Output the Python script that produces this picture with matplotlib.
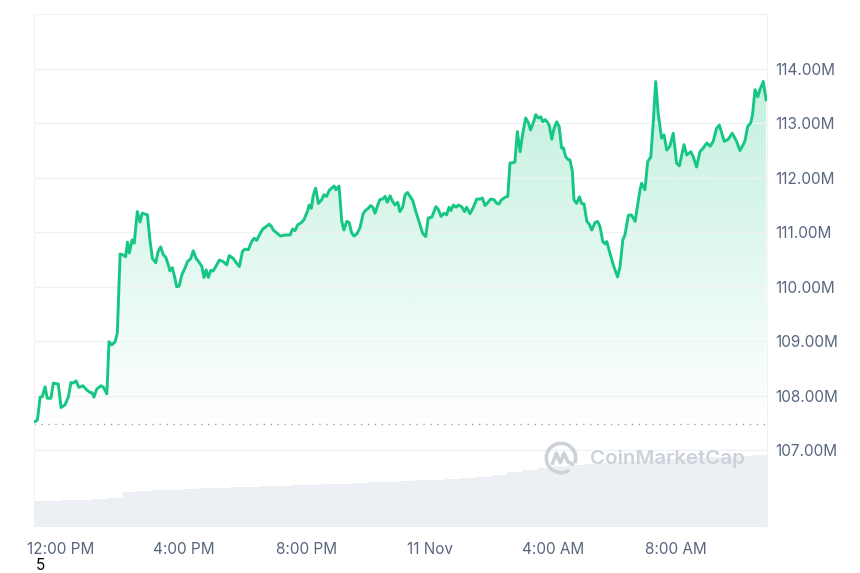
import numpy as np
import matplotlib
matplotlib.use('Agg')
import matplotlib.pyplot as plt
from matplotlib.patches import Polygon, Arc
from matplotlib.colors import to_rgb

# market cap over the last 24h, hours counted from 00:00 on 10 Nov
hours = [11.15, 11.23, 11.32, 11.39, 11.48, 11.55, 11.67, 11.75, 11.91, 12.00,
         12.13, 12.24, 12.32, 12.40, 12.49, 12.58, 12.71, 12.84, 12.94, 13.01,
         13.07, 13.16, 13.30, 13.38, 13.49, 13.56, 13.65, 13.76, 13.83, 13.92,
         14.03, 14.10, 14.16, 14.22, 14.31, 14.38, 14.48, 14.57, 14.64, 14.81,
         14.89, 14.97, 15.08, 15.16, 15.24, 15.33, 15.40, 15.49, 15.54, 15.62,
         15.71, 15.76, 15.84, 15.93, 16.03, 16.11, 16.22, 16.30, 16.39, 16.49,
         16.58, 16.65, 16.72, 16.79, 16.87, 16.95, 17.04, 17.15, 17.28, 17.39,
         17.47, 17.60, 17.71, 17.80, 17.90, 17.98, 18.09, 18.20, 18.28, 18.36,
         18.45, 18.56, 18.66, 18.77, 18.85, 18.90, 19.01, 19.14, 19.28, 19.45,
         19.53, 19.61, 19.70, 19.80, 19.90, 20.01, 20.07, 20.14, 20.20, 20.28,
         20.37, 20.48, 20.55, 20.64, 20.72, 20.80, 20.88, 20.94, 21.04, 21.13,
         21.20, 21.29, 21.37, 21.45, 21.53, 21.62, 21.72, 21.83, 21.92, 21.99,
         22.07, 22.14, 22.21, 22.30, 22.37, 22.46, 22.54, 22.61, 22.70, 22.77,
         22.86, 22.95, 23.02, 23.11, 23.19, 23.27, 23.35, 23.44, 23.54, 23.65,
         23.76, 23.86, 23.94, 24.06, 24.19, 24.27, 24.36, 24.46, 24.54, 24.62,
         24.68, 24.76, 24.85, 24.92, 25.03, 25.12, 25.19, 25.30, 25.41, 25.52,
         25.63, 25.70, 25.79, 25.90, 25.97, 26.08, 26.17, 26.24, 26.33, 26.44,
         26.53, 26.60, 26.71, 26.76, 26.84, 26.93, 27.01, 27.11, 27.20, 27.27,
         27.36, 27.44, 27.52, 27.60, 27.67, 27.74, 27.81, 27.88, 27.96, 28.03,
         28.12, 28.20, 28.28, 28.34, 28.41, 28.48, 28.55, 28.63, 28.68, 28.77,
         28.86, 28.93, 29.01, 29.10, 29.18, 29.26, 29.37, 29.45, 29.53, 29.62,
         29.69, 29.75, 29.85, 29.96, 30.10, 30.18, 30.27, 30.34, 30.45, 30.55,
         30.67, 30.83, 30.88, 30.99, 31.08, 31.18, 31.26, 31.34, 31.42, 31.53,
         31.61, 31.70, 31.80, 31.91, 32.02, 32.11, 32.26, 32.35, 32.48, 32.56,
         32.67, 32.78, 32.89, 33.00, 33.11, 33.21, 33.32, 33.41, 33.49, 33.57,
         33.70, 33.83, 33.97, 34.08, 34.24, 34.33, 34.43, 34.49, 34.57, 34.66,
         34.73, 34.84, 34.93]

market_cap = [107.52, 107.55, 107.97, 107.98, 108.16, 107.95, 107.95, 108.23, 108.21, 107.78,
              107.83, 107.98, 108.24, 108.23, 108.27, 108.15, 108.18, 108.10, 108.06, 108.05,
              107.97, 108.12, 108.18, 108.15, 108.03, 108.99, 108.93, 108.99, 109.15, 110.60,
              110.58, 110.55, 110.82, 110.62, 110.86, 110.80, 111.38, 111.19, 111.35, 111.32,
              110.86, 110.52, 110.44, 110.65, 110.73, 110.58, 110.55, 110.40, 110.29, 110.35,
              110.14, 110.00, 110.01, 110.22, 110.34, 110.46, 110.52, 110.66, 110.52, 110.45,
              110.37, 110.17, 110.31, 110.17, 110.30, 110.29, 110.38, 110.49, 110.46, 110.40,
              110.57, 110.52, 110.43, 110.37, 110.65, 110.69, 110.68, 110.83, 110.89, 110.85,
              110.95, 111.06, 111.10, 111.15, 111.10, 111.04, 110.99, 110.93, 110.95, 110.95,
              111.06, 111.03, 111.14, 111.17, 111.23, 111.38, 111.50, 111.44, 111.67, 111.81,
              111.53, 111.60, 111.69, 111.66, 111.77, 111.81, 111.85, 111.78, 111.85, 111.20,
              111.04, 111.20, 111.18, 110.99, 110.93, 110.97, 111.08, 111.35, 111.41, 111.44,
              111.49, 111.46, 111.35, 111.50, 111.60, 111.61, 111.66, 111.55, 111.67, 111.58,
              111.50, 111.55, 111.38, 111.46, 111.69, 111.73, 111.66, 111.58, 111.38, 111.18,
              110.98, 110.92, 111.26, 111.28, 111.47, 111.42, 111.29, 111.35, 111.32, 111.46,
              111.40, 111.50, 111.46, 111.50, 111.47, 111.38, 111.46, 111.34, 111.46, 111.61,
              111.61, 111.63, 111.49, 111.56, 111.61, 111.60, 111.53, 111.52, 111.60, 111.64,
              111.66, 112.27, 112.28, 112.29, 112.85, 112.48, 112.79, 113.10, 113.01, 112.88,
              113.01, 113.16, 113.10, 113.12, 113.03, 113.07, 113.03, 112.96, 112.71, 112.90,
              113.03, 112.94, 112.55, 112.55, 112.39, 112.34, 112.33, 112.12, 111.60, 111.53,
              111.65, 111.53, 111.52, 111.20, 111.15, 111.04, 111.18, 111.20, 111.10, 110.83,
              110.79, 110.83, 110.62, 110.40, 110.18, 110.37, 110.86, 110.95, 111.31, 111.32,
              111.20, 111.78, 111.90, 111.78, 112.30, 112.38, 113.01, 113.77, 113.19, 112.73,
              112.79, 112.51, 112.58, 112.82, 112.27, 112.22, 112.61, 112.42, 112.48, 112.39,
              112.20, 112.48, 112.55, 112.64, 112.58, 112.67, 112.91, 112.97, 112.82, 112.67,
              112.71, 112.82, 112.67, 112.50, 112.67, 112.94, 113.01, 113.16, 113.62, 113.49,
              113.62, 113.77, 113.43]

open_cap = 107.48

# volume, half-hour bins (arbitrary units)
vol_hours = np.arange(11.25, 35.0, 0.5)
volume = [2.6, 2.6, 2.7, 2.7, 2.8, 2.9, 3.5, 3.6, 3.7, 3.75,
          3.8, 3.9, 3.95, 4.0, 4.05, 4.1, 4.15, 4.2, 4.25, 4.3,
          4.35, 4.4, 4.5, 4.55, 4.6, 4.7, 4.75, 4.8, 4.9, 5.0,
          5.2, 5.5, 5.7, 5.9, 6.1, 6.2, 6.3, 6.4, 6.5, 6.6,
          6.7, 6.8, 6.85, 6.9, 7.0, 7.05, 7.1, 7.2]

tick_hours = [12, 16, 20, 24, 28, 32]
tick_labels = ['12:00 PM', '4:00 PM', '8:00 PM', '11 Nov', '4:00 AM', '8:00 AM']
cap_ticks = [107, 108, 109, 110, 111, 112, 113, 114]

green = '#16c784'
grey_text = '#58667e'
watermark = '#cdd2da'

plt.rcParams['font.family'] = ['Inter', 'DejaVu Sans']

fig = plt.figure(figsize=(8.6, 5.73), dpi=100)
rect = [34/860, 46/573, 733/860, 513/573]

# volume panel behind
axv = fig.add_axes(rect, zorder=0)
axv.bar(vol_hours, volume, width=0.5, color='#eceff3', linewidth=0)
axv.set_xlim(11.12, 34.96)
axv.set_ylim(0, 51.3)
axv.axis('off')

ax = fig.add_axes(rect, zorder=1)
ax.patch.set_alpha(0)

# gradient fill under the line
verts = [(hours[0], open_cap)] + list(zip(hours, market_cap)) + [(hours[-1], open_cap)]
poly = Polygon(verts, closed=True, facecolor='none', edgecolor='none')
ax.add_patch(poly)
grad = np.zeros((256, 1, 4))
grad[..., :3] = to_rgb(green)
grad[:, 0, 3] = np.linspace(0.27, 0.0, 256)
im = ax.imshow(grad, extent=[hours[0], hours[-1], open_cap, 114.0],
               aspect='auto', origin='upper', zorder=1)
im.set_clip_path(poly)

ax.plot(hours, market_cap, color=green, lw=2.1, zorder=3,
        solid_joinstyle='round', solid_capstyle='round')
ax.axhline(open_cap, color='#9aa0aa', lw=1, ls=(0, (1, 4)), zorder=2)

ax.set_xlim(11.12, 34.96)
ax.set_ylim(105.585, 115.01)
ax.set_xticks(tick_hours)
ax.set_xticklabels(tick_labels)
ax.yaxis.tick_right()
ax.set_yticks(cap_ticks)
ax.set_yticklabels([f'{v:.2f}M' for v in cap_ticks])
ax.tick_params(axis='both', length=0, labelsize=11, colors=grey_text)
ax.tick_params(axis='x', pad=11)
ax.tick_params(axis='y', pad=6)
ax.grid(axis='y', color='#eff2f5', lw=1, zorder=0)
for side in ['top', 'left', 'right']:
    ax.spines[side].set_color('#eff2f5')
ax.spines['bottom'].set_visible(False)

# watermark
fig.text(590/860, 1 - 459/573, 'CoinMarketCap', color=watermark,
         fontsize=14.8, fontweight='semibold', va='center', ha='left', zorder=5)
axl = fig.add_axes([544/860, 1 - 475/573, 34/860, 34/573], zorder=5)
axl.set_xlim(-1.1, 1.1)
axl.set_ylim(-1.1, 1.1)
axl.set_aspect('equal')
axl.axis('off')
axl.add_patch(Arc((0, 0), 1.9, 1.9, theta1=-20, theta2=305,
                  color=watermark, lw=2.6))
axl.plot([-0.55, -0.3, -0.05, 0.2, 0.45, 0.75],
         [-0.35, 0.3, -0.3, 0.3, -0.25, -0.4],
         color=watermark, lw=2.6, solid_capstyle='round', solid_joinstyle='round')

fig.text(40/860, 1 - 566/573, '5', fontsize=11, color='black',
         ha='center', va='center')

fig.savefig('out.png', dpi=100)
